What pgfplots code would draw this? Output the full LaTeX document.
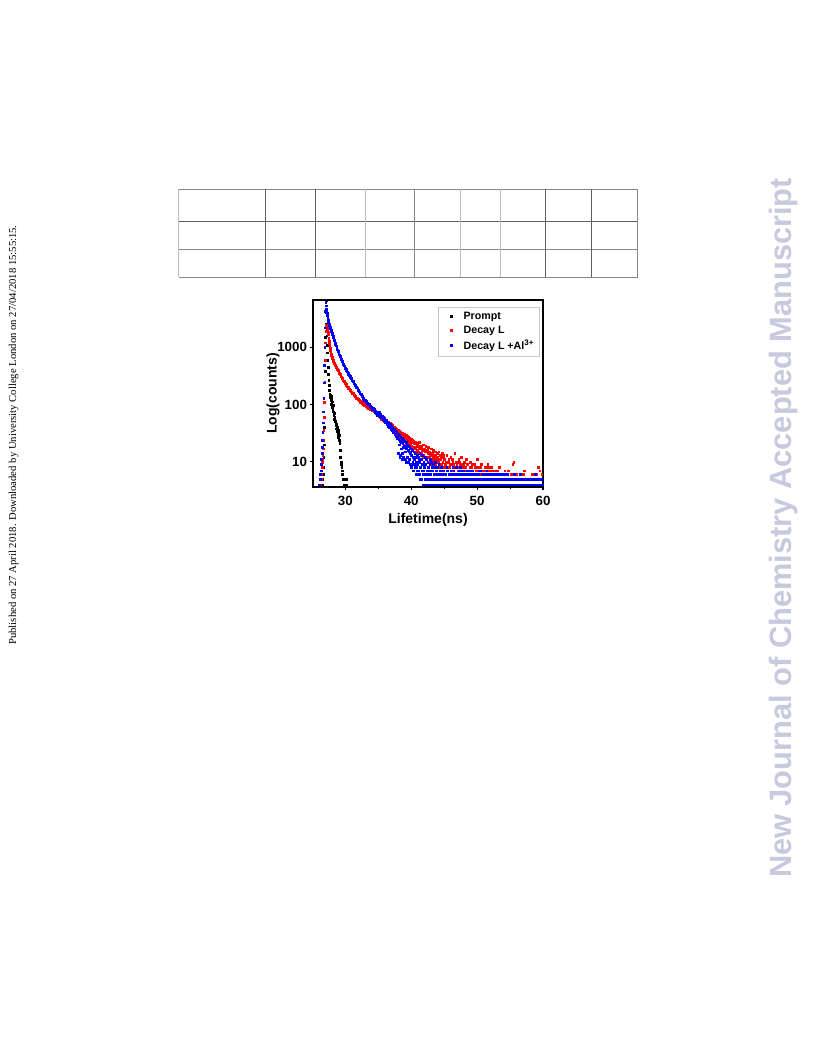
\documentclass[border=0pt]{standalone}
\usepackage{pgfplots}
\pgfplotsset{compat=1.18}
\usepackage{fontspec}
\setmainfont{Liberation Sans}
\newfontfamily\timesfont{Liberation Serif}
\definecolor{wm}{RGB}{200,200,222}
\definecolor{tdark}{RGB}{95,95,95}
\definecolor{tmid}{RGB}{135,135,135}
\definecolor{tlight}{RGB}{190,190,190}

\pgfplotstableread{
x y
26.40 4
26.45 4
26.50 5
26.55 4
26.60 5
26.65 6
26.70 8
26.75 12
26.80 20
26.85 40
26.90 110
26.95 380
27.00 1500
27.05 4500
27.08 6500
27.10 4000
27.15 2500
27.20 1600
27.25 1100
27.30 800
27.35 600
27.40 450
27.45 340
27.50 270
27.55 220
27.60 180
27.65 150
27.70 132
27.75 145
27.80 118
27.85 138
27.90 100
27.95 125
28.00 90
28.05 112
28.10 82
28.15 98
28.20 75
28.25 64
28.30 70
28.35 56
28.40 60
28.45 50
28.50 52
28.55 44
28.60 46
28.65 38
28.70 42
28.75 34
28.80 40
28.85 30
28.90 36
28.95 27
29.00 33
29.05 24
29.10 29
29.15 21
29.20 16
29.25 12
29.30 10
29.35 9
29.40 10
29.45 8
29.50 7
29.55 6
29.60 6
29.65 5
29.70 5
29.80 4
29.90 5
30.00 4
30.10 4
30.20 5
}\prompt

\pgfplotstableread{
x y
26.20 4
26.25 4
26.30 5
26.35 6
26.40 7
26.45 8
26.50 10
26.55 11
26.60 13
26.65 17
26.70 24
26.75 36
26.80 60
26.85 110
26.90 250
26.95 600
27.00 1200
27.05 1900
27.10 2400
27.15 2350
27.20 2250
27.25 2150
27.30 2050
27.35 1950
27.40 1850
27.45 1650
27.50 1450
27.55 1300
27.60 1180
27.65 1060
27.70 960
27.75 880
27.80 820
27.85 770
27.90 730
27.95 700
28.00 675
28.05 650
28.10 625
28.15 600
28.20 578
28.25 560
28.30 540
28.35 522
28.40 505
28.45 490
28.50 476
28.6 455
28.7 432
28.8 412
28.9 394
29.0 372
29.1 352
29.2 340
29.3 320
29.4 305
29.5 290
29.6 278
29.7 262
29.8 256
29.9 242
30.0 236
30.1 224
30.2 218
30.3 206
30.4 204
30.5 193
30.6 190
30.7 180
30.8 178
30.9 168
31.0 166
31.1 157
31.2 156
31.3 147
31.4 146
31.5 138
31.6 137
31.7 130
31.8 131
31.9 123
32.0 124
32.1 117
32.2 119
32.3 111
32.4 113
32.5 106
32.6 109
32.7 102
32.8 105
32.9 98
33.0 101
33.1 94
33.2 97
33.3 90
33.4 94
33.5 87
33.6 91
33.7 84
33.8 88
33.9 81
34.0 85
34.1 78
34.2 82
34.3 75
34.4 79
34.5 72
34.6 76
34.7 69
34.8 73
34.9 66
35.0 70
35.1 62
35.2 66
35.3 59
35.4 63
35.5 56
35.6 60
35.7 53
35.8 58
35.9 51
36.0 55
36.1 48
36.2 53
36.3 46
36.4 50
36.5 44
36.6 49
36.7 42
36.8 47
36.9 40
37.0 45
37.1 38
37.2 43
37.3 36
37.4 41
37.5 35
37.6 39
37.7 33
37.8 38
37.9 31
38.0 36
38.1 30
38.2 35
38.3 28
38.4 33
38.5 27
38.6 32
38.7 26
38.8 31
38.9 25
39.0 30
39.1 24
39.2 29
39.3 23
39.4 28
39.5 22
39.6 27
39.7 21
39.8 26
39.9 20
40.0 25
40.1 19
40.2 24
40.3 18
40.4 23
40.5 17
40.6 22
40.7 18
40.8 21
40.9 16
41.0 20
41.1 15
41.2 22
41.3 17
41.4 19
41.5 14
41.6 18
41.7 16
41.8 20
41.9 13
42.0 17
42.1 15
42.2 19
42.3 12
42.4 16
42.5 14
42.6 18
42.7 12
42.8 15
42.9 13
43.0 17
43.1 11
43.2 14
43.3 12
43.4 16
43.5 10
43.6 13
43.7 15
43.8 11
43.9 14
44.0 12
44.1 10
44.2 15
44.3 11
44.4 13
44.5 9
44.6 12
44.7 14
44.8 10
44.9 12
45.0 11
38.05 34
38.25 24
38.45 30
38.65 22
38.85 27
39.05 20
39.25 26
39.45 19
39.65 24
39.85 17
40.05 22
40.25 16
40.45 21
40.65 15
40.85 19
41.05 14
41.25 18
41.45 13
41.65 17
41.85 12
42.05 16
42.25 11
42.45 15
42.65 10
42.85 14
43.05 9
43.25 13
43.45 11
43.65 9
43.85 12
44.05 10
44.25 8
44.45 11
44.65 9
44.85 13
45.05 8
45.2 9
45.3 10
45.4 13
45.5 7
45.6 10
45.7 11
45.8 8
45.9 9
46.0 12
46.1 7
46.2 11
46.3 10
46.4 9
46.5 8
46.6 14
46.7 6
46.8 10
46.9 9
47.0 8
47.1 7
47.2 11
47.3 10
47.4 9
47.5 6
47.6 12
47.7 8
47.8 7
47.9 9
48.0 10
48.1 6
48.2 8
48.3 7
48.4 11
48.5 9
48.6 9
48.7 5
48.8 7
48.9 8
49.0 10
49.2 8
49.4 6
49.6 9
49.8 7
50.0 11
50.2 8
50.4 6
50.6 9
50.8 7
51.0 5
51.2 8
51.4 6
51.6 9
51.8 7
52.0 5
52.2 8
52.4 6
52.6 5
52.8 7
53.0 4
53.2 6
53.4 8
53.6 5
53.8 6
54.0 4
54.2 7
54.4 5
54.6 6
54.8 4
55.0 5
55.4 9
55.6 5
56.0 6
56.4 4
56.8 5
57.2 7
57.6 4
58.0 5
58.4 6
58.8 4
59.2 5
59.5 7
59.8 6
49.1 6
49.3 9
49.5 5
49.7 8
49.9 6
50.1 7
50.3 5
50.5 8
50.7 6
50.9 5
51.1 7
51.3 5
51.5 6
51.7 8
51.9 5
52.1 6
52.3 7
52.5 5
52.7 6
52.9 5
53.1 7
53.3 5
53.5 6
53.7 4
53.9 5
54.1 6
54.3 4
54.5 5
54.7 7
54.9 5
55.2 6
55.5 4
55.55 10
55.8 5
56.2 5
56.6 4
57.0 6
57.4 5
57.8 4
58.2 5
58.6 4
59.0 6
59.25 8
59.4 5
59.9 4
}\decayL

\pgfplotstableread{
x y
26.10 4
26.15 5
26.20 5
26.25 6
26.30 7
26.35 9
26.40 11
26.45 14
26.50 18
26.55 24
26.60 33
26.65 48
26.70 75
26.75 130
26.80 240
26.85 480
26.90 1000
26.95 2200
27.00 4200
27.05 6000
27.10 5300
27.15 4700
27.20 4300
27.25 3900
27.30 3550
27.35 3250
27.40 3000
27.45 2820
27.50 2680
27.55 2560
27.60 2450
27.65 2330
27.70 2220
27.75 2130
27.80 2050
27.85 1990
27.90 1920
27.95 1850
28.00 1770
28.05 1700
28.10 1620
28.15 1560
28.20 1480
28.25 1420
28.30 1350
28.35 1300
28.40 1250
28.45 1190
28.50 1140
28.6 1060
28.7 980
28.8 905
28.9 850
29.0 790
29.1 740
29.2 700
29.3 650
29.4 610
29.5 570
29.6 530
29.7 500
29.8 478
29.9 450
30.0 432
30.1 410
30.2 392
30.3 375
30.4 358
30.5 342
30.6 330
30.7 312
30.8 302
30.9 288
31.0 276
31.1 262
31.2 254
31.3 240
31.4 232
31.5 218
31.6 212
31.7 200
31.8 196
31.9 184
32.0 178
32.1 168
32.2 165
32.3 154
32.4 152
32.5 140
32.6 138
32.7 128
32.8 130
32.9 120
33.0 121
33.1 112
33.2 113
33.3 105
33.4 107
33.5 99
33.6 101
33.7 93
33.8 96
33.9 88
34.0 91
34.1 83
34.2 86
34.3 78
34.4 82
34.5 74
34.6 78
34.7 70
34.8 73
34.9 66
35.0 70
35.1 67
35.2 73
35.3 63
35.4 69
35.5 59
35.6 64
35.7 55
35.8 61
35.9 52
36.0 57
36.1 48
36.2 54
36.3 45
36.4 50
36.5 42
36.6 47
36.7 40
36.8 45
36.9 37
37.0 42
37.1 35
37.2 39
37.3 33
37.4 37
37.5 30
37.6 35
37.7 28
37.8 33
37.9 26
38.0 31
38.1 25
38.2 29
38.3 23
38.4 27
38.5 22
38.6 26
38.7 21
38.8 24
38.9 19
39.0 23
39.1 18
39.2 22
39.3 17
39.4 20
39.5 16
39.6 19
39.7 15
39.8 18
39.9 14
40.0 17
40.1 13
40.2 16
40.3 12
40.4 15
40.5 11
40.6 14
40.7 12
40.8 10
40.9 13
41.0 9
41.1 12
41.2 10
41.3 14
41.4 8
41.5 11
41.6 9
41.7 13
41.8 7
41.9 10
42.0 8
42.1 12
42.2 9
42.3 11
42.4 7
42.5 10
42.6 8
42.7 6
42.8 9
42.9 11
43.0 7
43.1 10
43.2 8
43.3 5
43.4 9
43.5 6
43.6 8
43.7 10
43.8 7
43.9 5
44.0 8
44.1 6
44.2 9
44.3 4
44.4 7
44.5 5
44.6 8
44.7 6
44.8 4
44.9 7
45.0 5
38.05 14
38.15 20
38.25 12
38.35 13
38.45 17
38.55 11
38.65 14
38.75 12
38.85 18
38.95 11
39.05 11
39.15 15
39.25 10
39.35 12
39.45 10
39.55 16
39.65 10
39.75 11
39.85 9
39.95 13
40.05 8
40.15 9
40.25 10
40.35 7
40.45 12
40.55 8
40.65 9
40.75 6
40.85 8
40.95 7
41.05 7
41.15 11
41.25 6
41.35 5
41.45 8
41.55 5
41.65 7
41.75 4
41.85 6
41.95 9
42.05 5
42.15 4
42.25 6
42.35 5
42.45 4
42.55 7
42.65 5
42.75 4
42.85 6
42.95 4
43.05 5
43.15 4
43.25 7
43.35 4
43.45 5
43.55 4
43.65 6
43.75 4
43.85 5
43.95 4
44.05 6
44.15 5
44.25 4
44.35 5
44.45 6
44.55 4
44.65 5
44.75 4
44.85 6
44.95 4
45.1 5
45.2 6
45.3 4
45.4 8
45.5 7
45.6 4
45.7 6
45.8 5
45.9 4
46.0 7
46.1 5
46.2 4
46.3 8
46.4 6
46.5 4
46.6 5
46.7 6
46.8 8
46.9 5
47.0 4
47.1 4
47.2 6
47.3 7
47.4 5
47.5 4
47.6 7
47.7 5
47.8 4
47.9 6
48.0 5
48.1 4
48.2 6
48.3 5
48.4 4
48.5 7
48.6 5
48.7 4
48.8 7
48.9 6
49.0 4
49.1 5
49.2 5
49.3 4
49.4 6
49.5 6
49.6 4
49.7 4
49.8 5
49.9 6
50.0 4
50.1 5
50.2 6
50.3 4
50.4 5
50.5 7
50.6 4
50.7 4
50.8 5
50.9 6
51.0 4
51.1 5
51.2 6
51.3 4
51.4 4
51.5 5
51.6 5
51.7 6
51.8 4
51.9 4
52.0 5
52.1 6
52.2 4
52.3 5
52.4 4
52.5 4
52.6 5
52.7 6
52.8 4
52.9 5
53.0 6
53.1 4
53.2 4
53.3 4
53.4 5
53.5 6
53.6 4
53.7 5
53.8 4
53.9 4
54.0 5
54.1 5
54.2 4
54.3 6
54.4 4
54.5 4
54.6 5
54.7 4
54.8 4
54.9 5
55.0 4
55.2 4
55.4 5
55.6 6
55.8 4
56.0 5
56.2 4
56.4 4
56.6 6
56.8 4
57.0 4
57.2 5
57.4 5
57.6 4
57.8 4
58.0 4
58.2 4
58.4 4
58.6 5
58.8 6
59.0 4
59.2 4
59.4 4
59.6 4
59.8 5
45.05 5
45.15 4
45.25 6
45.35 5
45.45 4
45.55 7
45.65 5
45.75 4
45.85 6
45.95 5
46.05 4
46.15 6
46.25 5
46.35 4
46.45 7
46.55 4
46.65 5
46.75 4
46.85 6
46.95 4
47.05 5
47.15 6
47.25 4
47.35 5
47.45 8
47.55 4
47.65 6
47.75 5
47.85 4
47.95 7
48.05 4
48.15 5
48.25 4
48.35 6
48.45 5
48.55 4
48.65 6
48.75 5
48.85 4
48.95 5
49.05 6
49.15 4
49.25 7
49.35 5
49.45 4
49.55 5
49.65 6
49.75 4
49.85 5
49.95 4
50.05 6
50.15 4
50.25 5
50.35 7
50.45 4
50.55 5
50.65 4
50.75 6
50.85 4
50.95 5
51.05 4
51.15 6
51.25 5
51.35 4
51.45 7
51.55 4
51.65 5
51.75 4
51.85 6
51.95 5
52.05 4
52.15 5
52.25 6
52.35 4
52.45 5
52.55 4
52.65 4
52.75 5
52.85 6
52.95 4
53.05 5
53.15 4
53.25 5
53.35 6
53.45 4
53.55 4
53.65 5
53.75 4
53.85 6
53.95 5
54.05 4
54.15 4
54.25 5
54.35 4
54.45 5
54.55 6
54.65 4
54.75 5
54.85 4
54.95 4
55.05 4
55.1 5
55.25 4
55.3 5
55.45 5
55.5 4
55.65 4
55.7 5
55.85 4
55.9 4
56.05 4
56.1 5
56.25 5
56.3 4
56.45 4
56.5 5
56.65 4
56.7 4
56.85 4
56.9 5
57.05 5
57.1 4
57.25 4
57.3 4
57.45 4
57.5 5
57.65 4
57.7 4
57.85 4
57.9 5
58.05 5
58.1 4
58.25 4
58.3 5
58.45 4
58.5 4
58.65 4
58.7 4
58.85 4
58.9 5
59.05 4
59.1 4
59.25 5
59.3 5
59.45 4
59.5 4
59.65 4
59.7 5
59.85 4
59.9 4
}\decayLAl

\begin{document}
\begin{tikzpicture}
\path[use as bounding box, fill=white] (0,0) rectangle (612pt,792pt);
\begin{scope}[shift={(0pt,792pt)}, x=0.75pt, y=-0.75pt]
% table outline
\draw[tmid, line width=0.75pt] (178.5,189.5) -- (637.5,189.5);
\draw[tdark, line width=0.75pt] (178.5,221.7) -- (637.5,221.7);
\draw[tmid, line width=0.75pt] (178.5,249.3) -- (637.5,249.3);
\draw[tmid, line width=0.75pt] (178.5,277.2) -- (637.5,277.2);
\draw[tlight, line width=0.75pt] (178.5,189.5) -- (178.5,277.2);
\draw[tmid, line width=0.75pt] (637.5,189.5) -- (637.5,277.2);
\foreach \cx in {265.7,315.7,545.7,591.7} \draw[tdark, line width=0.75pt] (\cx,189.5) -- (\cx,277.2);
\foreach \cx in {414.3} \draw[tmid, line width=0.75pt] (\cx,189.5) -- (\cx,277.2);
\foreach \cx in {365,460,500} \draw[tlight, line width=0.75pt] (\cx,189.5) -- (\cx,277.2);
% side texts
\node[rotate=90, anchor=center, inner sep=0pt, font=\timesfont\fontsize{8}{9}\selectfont] at (13.5,435) {Published on 27 April 2018. Downloaded by University College London on 27/04/2018 15:55:15.};
\node[rotate=90, anchor=center, inner sep=0pt, text=wm, font=\bfseries\fontsize{23.1}{27}\selectfont] at (784,528) {New Journal of Chemistry Accepted Manuscript};
\end{scope}

\begin{axis}[
  at={(234.75pt,426.75pt)}, anchor=south west,
  width=172.5pt, height=140.25pt, scale only axis,
  xmin=25.1, xmax=60,
  ymode=log, ymin=3.65, ymax=6700,
  xtick={30,40,50,60}, xticklabels={30,40,50,60},
  minor xtick={35,45,55},
  ytick={10,100,1000}, yticklabels={10,100,1000},
  yminorticks=false,
  xtick pos=bottom, ytick pos=left,
  tick align=outside,
  major tick length=2.5pt, minor tick length=1.5pt,
  axis line style={line width=1.1pt},
  every tick/.style={line width=0.8pt, black},
  ticklabel style={font=\bfseries\fontsize{10}{12}\selectfont},
  xticklabel style={yshift=-0.5pt},
  yticklabel style={xshift=1.5pt},
  xlabel={Lifetime(ns)}, ylabel={Log(counts)},
  label style={font=\bfseries\fontsize{10.5}{12}\selectfont},
  xlabel style={yshift=1pt},
  ylabel style={yshift=-8.5pt},
  legend style={at={(0.543,0.963)}, anchor=north west, draw=gray!45, line width=0.6pt,
    font=\bfseries\fontsize{8}{9.5}\selectfont, cells={anchor=west},
    inner xsep=2pt, inner ysep=1.5pt, row sep=-0.5pt},
  legend image code/.code={\path[draw=none, fill=none] (0pt,-2pt) rectangle (15pt,2pt); \fill (7.35pt,-0.65pt) rectangle (8.65pt,0.65pt);},
]
\addplot[only marks, mark=square*, mark size=0.65pt, black] table {\prompt};
\addlegendentry{Prompt}
\addplot[only marks, mark=square*, mark size=0.65pt, red] table {\decayL};
\addlegendentry{Decay L}
\addplot[only marks, mark=square*, mark size=0.65pt, blue] table {\decayLAl};
\addlegendentry{Decay L +Al\textsuperscript{3+}\hspace{3pt}}
\end{axis}
\end{tikzpicture}
\end{document}
